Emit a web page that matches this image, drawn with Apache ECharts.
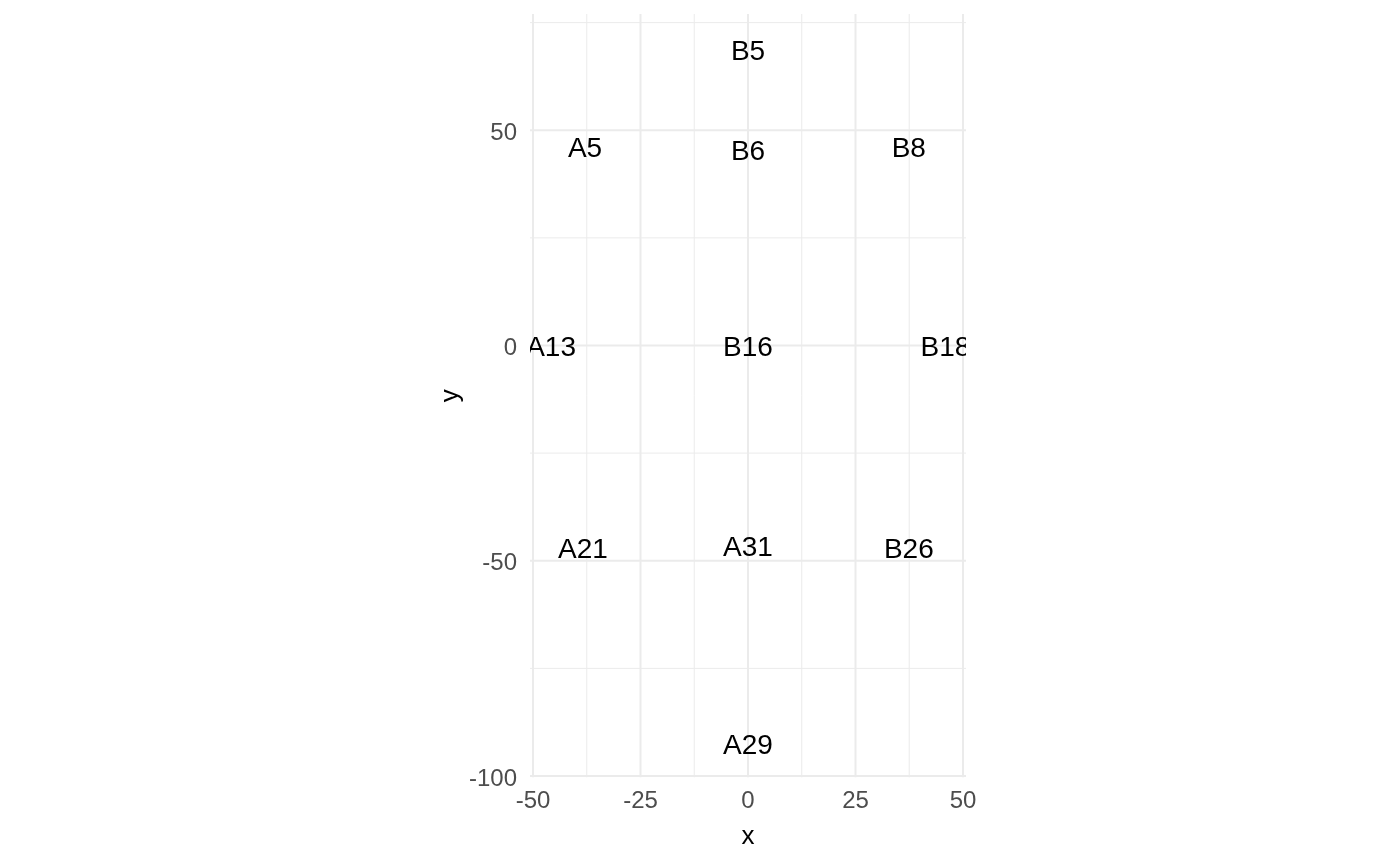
<!DOCTYPE html>
<html>
<head>
<meta charset="utf-8">
<script src="https://cdn.jsdelivr.net/npm/echarts@6/dist/echarts.min.js"></script>
<style>
html,body{margin:0;padding:0;background:#fff;}
#chart{width:1400px;height:866px;}
</style>
</head>
<body>
<div id="chart"></div>
<script>
// ---- data ----
const labels = ['B5','A5','B6','B8','A13','B16','B18','A21','A31','B26','A29'];
const xValues = [0, -37.9, 0, 37.4, -45.8, 0, 45.9, -38.4, 0, 37.4, 0];
const yValues = [68.7, 46.2, 45.5, 46.2, 0, 0, 0, -46.9, -46.4, -46.9, -92.3];

const xTicks = [-50, -25, 0, 25, 50];
const yTicks = [-100, -50, 0, 50];
const xMinorTicks = [-37.5, -12.5, 12.5, 37.5];
const yMinorTicks = [-75, -25, 25, 75];

const X_MIN = -50.7, X_MAX = 50.7, Y_MIN = -100.3, Y_MAX = 77;

const FONT = '"Liberation Sans", Arial, sans-serif';
const GRID_COLOR = '#EBEBEB';

function vLines(width) {
  return function (params, api) {
    const v = api.value(0);
    const p1 = api.coord([v, Y_MAX]);
    const p2 = api.coord([v, Y_MIN]);
    return {type: 'line', shape: {x1: p1[0], y1: p1[1], x2: p2[0], y2: p2[1]},
      style: {stroke: GRID_COLOR, lineWidth: width}};
  };
}
function hLines(width) {
  return function (params, api) {
    const v = api.value(1);
    const p1 = api.coord([X_MIN, v]);
    const p2 = api.coord([X_MAX, v]);
    return {type: 'line', shape: {x1: p1[0], y1: p1[1], x2: p2[0], y2: p2[1]},
      style: {stroke: GRID_COLOR, lineWidth: width}};
  };
}

const pointData = labels.map((l, i) => [xValues[i], yValues[i], l]);

const chart = echarts.init(document.getElementById('chart'), null, {renderer: 'canvas'});
chart.setOption({
  animation: false,
  backgroundColor: '#ffffff',
  grid: {left: 530, top: 14, width: 436, height: 763.3, containLabel: false},
  xAxis: {
    type: 'value', min: X_MIN, max: X_MAX,
    name: 'x', nameLocation: 'middle', nameGap: 47,
    nameTextStyle: {color: '#000', fontSize: 26, fontFamily: FONT},
    axisLine: {show: false}, axisTick: {show: false}, splitLine: {show: false},
    axisLabel: {customValues: xTicks, color: '#4D4D4D', fontSize: 24, fontFamily: FONT, margin: 12}
  },
  yAxis: {
    type: 'value', min: Y_MIN, max: Y_MAX,
    name: 'y', nameLocation: 'middle', nameGap: 66, nameRotate: 90,
    nameTextStyle: {color: '#000', fontSize: 26, fontFamily: FONT},
    axisLine: {show: false}, axisTick: {show: false}, splitLine: {show: false},
    axisLabel: {customValues: yTicks, color: '#4D4D4D', fontSize: 24, fontFamily: FONT, margin: 13,
      formatter: '{a|{value}}',
      rich: {a: {color: '#4D4D4D', fontSize: 24, fontFamily: FONT, padding: [6, 0, 0, 0]}}}
  },
  series: [
    {type: 'custom', silent: true, z: 1, data: xMinorTicks.map(v => [v, 0]), renderItem: vLines(1)},
    {type: 'custom', silent: true, z: 1, data: yMinorTicks.map(v => [0, v]), renderItem: hLines(1)},
    {type: 'custom', silent: true, z: 2, data: xTicks.map(v => [v, 0]), renderItem: vLines(2)},
    {type: 'custom', silent: true, z: 2, data: yTicks.map(v => [0, v]), renderItem: hLines(2)},
    {
      type: 'custom', silent: true, z: 5, clip: true,
      data: pointData,
      renderItem: function (params, api) {
        const p = api.coord([api.value(0), api.value(1)]);
        return {type: 'text', x: p[0], y: p[1] + 3,
          style: {text: labels[params.dataIndex], fill: '#000', fontSize: 28, fontFamily: FONT,
            align: 'center', verticalAlign: 'middle'}};
      }
    }
  ]
});
</script>
</body>
</html>
